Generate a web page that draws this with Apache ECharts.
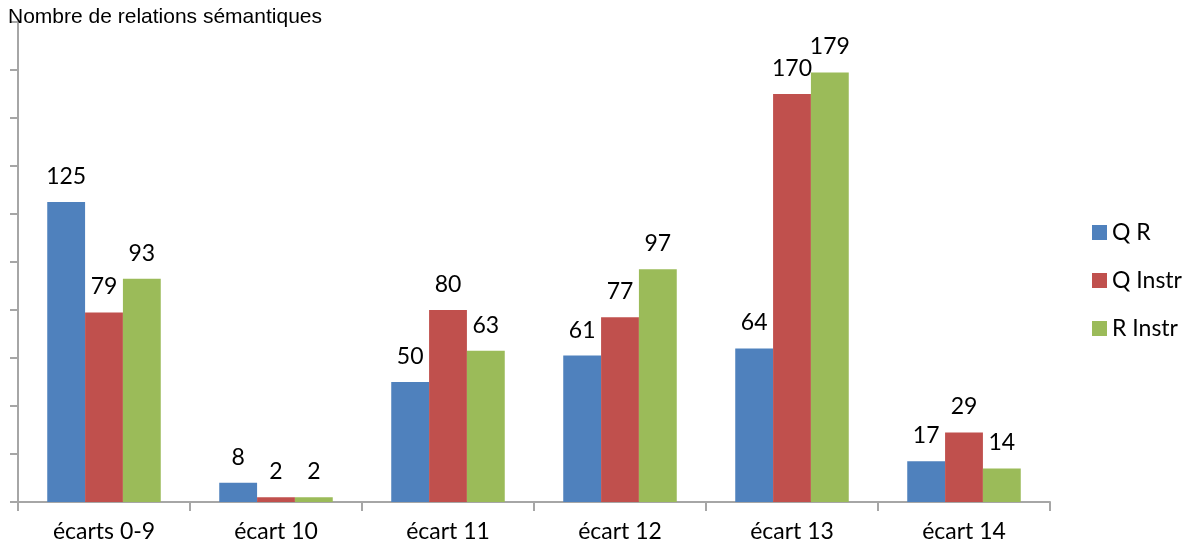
<!DOCTYPE html>
<html>
<head>
<meta charset="utf-8">
<script src="https://cdn.jsdelivr.net/npm/echarts@6/dist/echarts.min.js"></script>
<style>
  html, body { margin: 0; padding: 0; background: #fff; }
  #chart { width: 1195px; height: 550px; }
</style>
</head>
<body>
<div id="chart"></div>
<script>
const categories = ['écarts 0-9', 'écart 10', 'écart 11', 'écart 12', 'écart 13', 'écart 14'];
const qR = [125, 8, 50, 61, 64, 17];
const qInstr = [79, 2, 80, 77, 170, 29];
const rInstr = [93, 2, 63, 97, 179, 14];

const labelFont = 'Lato, "Open Sans", sans-serif';
const axisGrey = '#a6a6a6';

function barSeries(name, data, color) {
  return {
    name: name,
    type: 'bar',
    data: data,
    barGap: '0%',
    barCategoryGap: '34%',
    itemStyle: { color: color },
    label: {
      show: true,
      position: 'top',
      distance: 14,
      color: '#000',
      fontSize: 23,
      fontFamily: labelFont
    }
  };
}

const chart = echarts.init(document.getElementById('chart'));
chart.setOption({
  animation: false,
  backgroundColor: '#fff',
  grid: { left: 18, right: 145, top: 22, bottom: 48, containLabel: false },
  title: {
    text: 'Nombre de relations sémantiques',
    left: 8,
    top: 7,
    padding: 0,
    textStyle: { fontFamily: '"Liberation Sans", Arial, sans-serif', fontWeight: 'normal', fontSize: 21, color: '#000' }
  },
  legend: {
    orient: 'vertical',
    left: 1092,
    top: 221,
    padding: 0,
    itemWidth: 15,
    itemHeight: 15,
    itemGap: 25,
    icon: 'rect',
    textStyle: { fontSize: 23, lineHeight: 23, fontFamily: labelFont, color: '#000' },
    data: ['Q R', 'Q Instr', 'R Instr']
  },
  xAxis: {
    type: 'category',
    data: categories,
    boundaryGap: true,
    axisLine: { lineStyle: { color: axisGrey, width: 2 } },
    axisTick: { show: true, length: 9, lineStyle: { color: axisGrey, width: 2 } },
    axisLabel: { color: '#000', fontSize: 23, fontFamily: labelFont, margin: 18 }
  },
  yAxis: {
    type: 'value',
    min: 0,
    max: 200,
    interval: 20,
    axisLine: { show: true, lineStyle: { color: axisGrey, width: 2 } },
    axisTick: { show: true, length: 8, lineStyle: { color: axisGrey, width: 2 } },
    axisLabel: { show: false },
    splitLine: { show: false }
  },
  series: [
    barSeries('Q R', qR, '#4f81bd'),
    barSeries('Q Instr', qInstr, '#c0504d'),
    barSeries('R Instr', rInstr, '#9bbb59')
  ]
});
</script>
</body>
</html>
